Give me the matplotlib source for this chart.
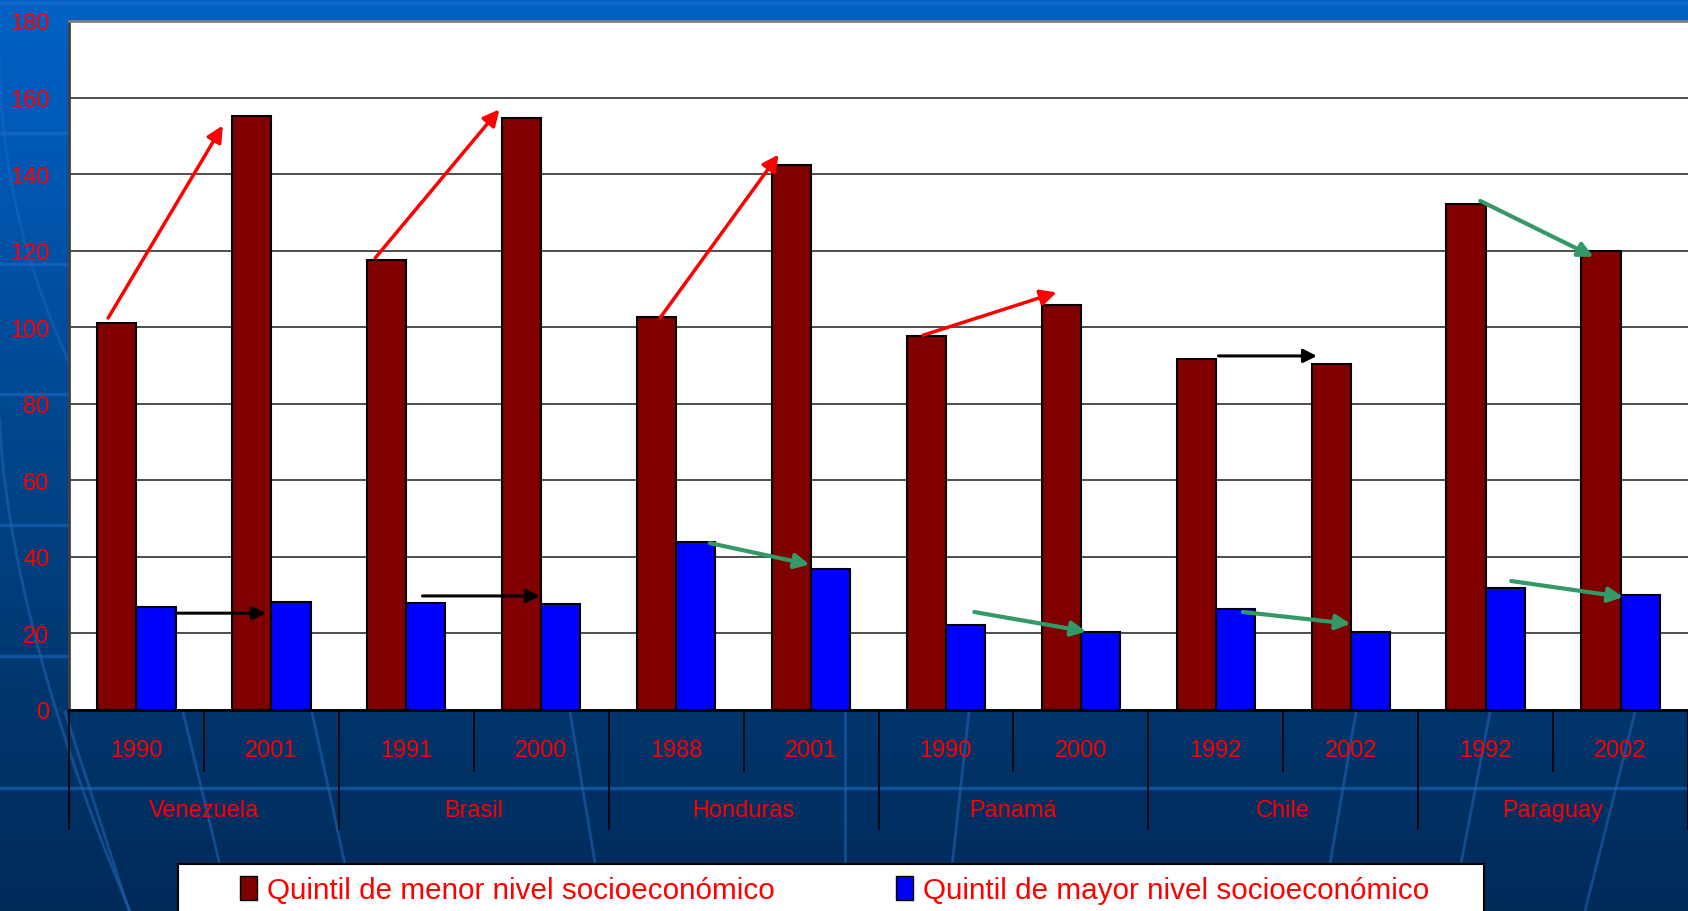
import numpy as np
import matplotlib
matplotlib.use('Agg')
import matplotlib.pyplot as plt
from matplotlib.colors import LinearSegmentedColormap
from matplotlib.patches import Patch, Rectangle

plt.rcParams['font.family'] = ['Liberation Sans', 'DejaVu Sans']

# ---- datos ----
paises = ['Venezuela', 'Brasil', 'Honduras', 'Panamá', 'Chile', 'Paraguay']
anios = ['1990', '2001', '1991', '2000', '1988', '2001',
         '1990', '2000', '1992', '2002', '1992', '2002']
menor = [101, 155.2, 117.5, 154.7, 102.6, 142.3, 97.6, 105.7, 91.7, 90.3, 132.2, 119.8]
mayor = [27, 28.1, 28, 27.6, 43.9, 36.8, 22.2, 20.5, 26.4, 20.5, 31.8, 30.1]
series = ['Quintil de menor nivel socioeconómico', 'Quintil de mayor nivel socioeconómico']

# flechas (x0, y0, x1, y1) en unidades de los datos
flechas_rojas = [(-0.21, 102.4, 0.64, 152.7), (1.77, 118.1, 2.69, 156.9),
                 (3.88, 102.4, 4.76, 145.1), (5.83, 97.9, 6.82, 109.1)]
flechas_negras = [(0.29, 25.3, 0.96, 25.3), (2.12, 29.8, 2.99, 29.8),
                  (8.02, 92.5, 8.75, 92.5)]
flechas_verdes = [(9.96, 133, 10.80, 118.4), (4.25, 43.6, 4.99, 38),
                  (6.21, 25.6, 7.04, 20.5), (8.2, 25.6, 9.0, 22.5),
                  (10.19, 33.7, 11.02, 29.5)]

W, H = 1688, 912
fig = plt.figure(figsize=(W / 100, H / 100), dpi=100)

# ---- fondo azul degradado ----
bg = fig.add_axes([0, 0, 1, 1], zorder=0)
cmap = LinearSegmentedColormap.from_list('fondo', [
    (0.0, '#0062C6'), (0.12, '#005BBA'), (0.45, '#004890'),
    (0.7, '#003A74'), (1.0, '#002A58')])
bg.imshow(np.linspace(0, 1, 512).reshape(-1, 1), cmap=cmap, aspect='auto',
          extent=[0, W, H, 0])
for yy in [4, 134, 265, 395, 526, 657, 789]:
    bg.axhline(yy, color='#1F6CC8', lw=2.5, alpha=0.55)
# lineas decorativas
for x0, x1 in [(65, 129), (183, 231), (312, 355), (570, 603), (845, 845),
               (969, 947), (1356, 1322), (1490, 1452), (1635, 1585)]:
    bg.plot([x0, x1], [713, 912], color='#1F62B0', lw=2, alpha=0.6)
t = np.linspace(0, 1, 50)
bg.plot(0 + 130 * t ** 1.6, 420 + 492 * t, color='#1F62B0', lw=2, alpha=0.6)
bg.plot(0 + 120 * t ** 2, 60 + 400 * t, color='#1F6CC8', lw=2, alpha=0.4)
bg.set_xlim(0, W)
bg.set_ylim(H, 0)
bg.axis('off')

# ---- grafico ----
ax = fig.add_axes([69 / W, 1 - 711 / H, 1 - 69 / W, 689 / H], zorder=2)
ax.set_facecolor('white')
x = np.arange(len(anios))
bw = 0.29
ax.bar(x - bw / 2, menor, bw, color='#800000', edgecolor='black', lw=1.5, zorder=3)
ax.bar(x + bw / 2, mayor, bw, color='#0000FF', edgecolor='black', lw=1.5, zorder=3)

ax.set_xlim(-0.5, len(anios) - 0.5)
ax.set_ylim(0, 180)
ax.set_yticks(range(0, 181, 20))
ax.set_xticks([])
ax.tick_params(axis='y', length=0, pad=14, labelcolor='red', labelsize=17)
ax.yaxis.grid(True, color='#404040', lw=1.3)
ax.set_axisbelow(True)
ax.spines['right'].set_visible(False)
ax.spines['left'].set_color('#404040')
ax.spines['left'].set_linewidth(2)
ax.spines['top'].set_color('#808080')
ax.spines['top'].set_linewidth(2)
ax.spines['bottom'].set_color('black')
ax.spines['bottom'].set_linewidth(2)

# flechas
for lista, col, lw, ms in [(flechas_rojas, 'red', 2.5, 24),
                           (flechas_negras, 'black', 2.2, 20),
                           (flechas_verdes, '#339966', 3, 22)]:
    for x0, y0, x1, y1 in lista:
        ax.annotate('', xy=(x1, y1), xytext=(x0, y0),
                    arrowprops=dict(arrowstyle='-|>', color=col, lw=lw,
                                    mutation_scale=ms, shrinkA=0, shrinkB=0),
                    zorder=5)

# eje de categorias en dos niveles
tr = ax.get_xaxis_transform()
for i, a in enumerate(anios):
    ax.text(i, -0.058, a, transform=tr, ha='center', va='center',
            color='red', fontsize=17)
for j, p in enumerate(paises):
    ax.text(2 * j + 0.5, -0.145, p, transform=tr, ha='center', va='center',
            color='red', fontsize=17)
for k in range(len(anios) + 1):
    fondo = -0.1727 if k % 2 == 0 else -0.0885
    ax.plot([k - 0.5, k - 0.5], [0, fondo], transform=tr, color='black',
            lw=1.2, clip_on=False)

# leyenda
fig.add_artist(Rectangle((178 / W, -0.01), 1306 / W, 1 - 865 / H + 0.01,
                         transform=fig.transFigure, facecolor='white',
                         edgecolor='black', lw=1.5, zorder=3))
handles = [Patch(facecolor='#800000', edgecolor='black'),
           Patch(facecolor='#0000FF', edgecolor='black')]
fig.legend(handles, series, loc='center left',
           bbox_to_anchor=(240 / W, 1 - 891 / H), frameon=False, ncol=2,
           fontsize=21.3, labelcolor='red', handlelength=0.58, handleheight=0.85,
           handletextpad=0.33, columnspacing=4.1, borderpad=0, borderaxespad=0)

fig.savefig('out.png', dpi=100)
